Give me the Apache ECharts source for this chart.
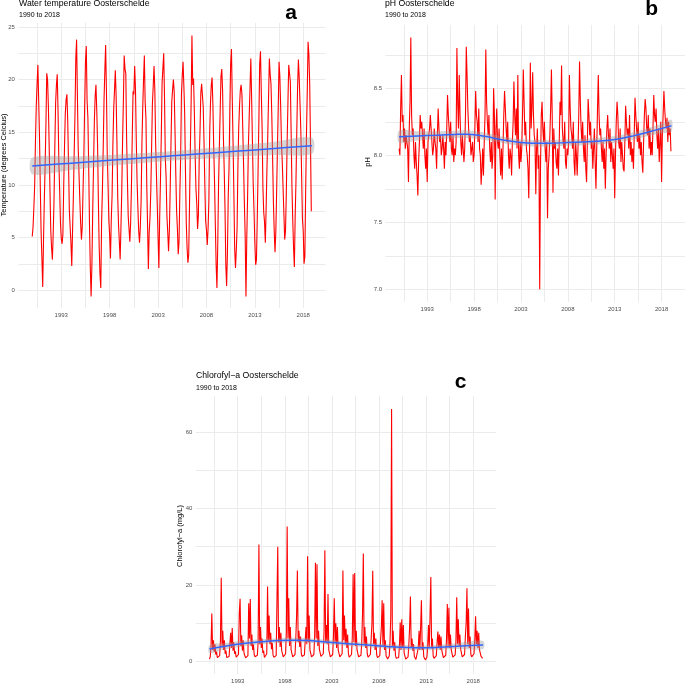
<!DOCTYPE html>
<html><head><meta charset="utf-8">
<script src="https://cdn.jsdelivr.net/npm/echarts@6/dist/echarts.min.js"></script>
<style>html,body{margin:0;padding:0;background:#fff}#c{width:685px;height:684px}</style>
</head><body><div id="c"></div>
<script>
// ---- DATA (monthly samples, first sample Jan 1990) ----
const startYear = 1990;
const temperature = [
 5.1,6.0,7.8,9.9,14.2,17.5,19.6,21.4,18.0,14.6,9.8,5.5,
 3.0,0.3,4.8,8.6,11.9,15.8,20.6,20.0,17.5,13.7,9.5,5.6,
 4.0,2.9,5.4,8.5,13.6,17.8,19.5,20.5,17.0,12.2,9.5,6.4,
 4.9,4.4,5.3,9.8,13.6,16.8,18.1,18.6,16.1,12.0,7.6,6.0,
 4.5,2.3,5.7,8.9,13.0,16.7,22.0,23.8,18.5,13.5,11.0,8.6,
 6.4,4.8,6.0,9.5,12.8,17.5,21.7,23.2,18.0,16.4,11.7,6.2,
 2.1,-0.6,2.5,7.6,11.8,16.0,18.4,19.5,17.1,13.8,8.5,4.1,
 1.5,0.2,6.5,9.5,13.5,18.0,20.8,23.3,19.0,13.0,10.0,6.6,
 5.2,3.0,6.7,9.0,13.8,17.2,19.0,20.9,18.5,14.1,8.8,6.2,
 4.6,2.9,6.0,9.4,14.2,17.9,22.3,21.0,20.6,14.5,10.5,7.0,
 5.8,4.6,6.4,9.8,14.5,18.9,18.6,21.3,19.1,14.2,10.3,7.8,
 5.6,4.5,6.0,8.5,13.9,17.3,20.0,22.3,17.9,16.3,10.0,6.1,
 2.0,5.5,6.9,9.4,13.5,17.7,19.4,21.3,19.0,14.0,11.0,8.1,
 5.0,2.1,6.8,10.5,14.6,19.7,21.1,22.5,18.3,12.5,10.7,7.0,
 5.5,3.7,5.6,9.4,13.8,17.9,19.0,20.0,18.9,15.2,11.0,7.5,
 5.8,3.4,4.6,9.1,12.6,18.6,20.4,21.7,19.4,16.8,11.2,6.4,
 4.0,2.6,3.4,8.1,13.2,17.8,24.2,19.5,20.1,16.9,12.8,9.6,
 8.2,5.8,7.1,12.3,15.0,18.7,19.6,19.6,17.4,14.0,10.0,6.6,
 5.7,4.3,5.8,8.5,14.9,17.8,19.5,20.2,17.6,13.6,10.4,6.3,
 2.4,0.2,4.3,10.0,13.6,17.0,20.3,21.0,19.0,14.6,11.5,7.8,
 2.4,0.4,3.5,8.9,11.7,17.2,21.5,22.9,18.2,14.0,9.2,3.9,
 2.1,3.8,6.0,11.7,15.4,17.5,19.0,19.5,18.6,15.4,12.0,8.3,
 5.2,-0.6,5.0,8.8,13.7,16.5,19.1,22.0,18.3,14.1,10.0,7.5,
 4.5,2.4,2.9,6.8,11.4,16.1,21.5,22.7,18.8,15.4,9.8,7.4,
 6.5,4.5,7.8,11.5,14.6,18.3,22.0,20.5,19.6,16.7,12.7,8.4,
 5.7,3.6,5.5,9.3,13.4,17.3,21.7,20.3,17.5,14.0,12.2,9.7,
 7.3,4.8,5.6,9.1,13.9,17.7,21.4,20.6,19.8,15.0,9.8,6.7,
 4.0,2.2,7.0,10.4,15.1,19.3,21.9,20.2,17.7,15.2,10.9,6.8,
 5.6,2.5,3.2,9.4,14.8,18.9,23.6,22.4,19.6,14.0,7.5
];
const phValues = [
 8.05,8.00,8.35,8.60,8.25,8.30,8.10,8.20,8.05,8.15,8.10,8.05,
 7.80,8.20,8.40,8.88,8.30,8.15,8.20,8.00,7.90,8.10,7.95,7.85,
 7.70,7.95,8.10,8.30,8.20,8.25,8.15,8.05,8.20,8.00,7.90,8.05,
 7.80,8.10,8.15,8.20,8.30,8.20,8.10,8.00,8.05,8.20,8.10,8.05,
 7.90,8.15,8.35,8.20,8.10,8.15,8.00,8.05,8.15,8.05,7.90,8.10,
 8.00,8.20,8.45,8.30,8.20,8.10,8.25,8.05,8.00,8.15,7.95,8.05,
 8.00,8.10,8.80,8.40,8.20,8.60,8.30,8.10,8.00,8.15,8.05,7.95,
 8.05,8.30,8.81,8.60,8.35,8.20,8.10,8.15,8.00,8.05,8.10,7.95,
 8.00,8.20,8.48,8.30,8.25,8.10,8.35,8.05,8.00,7.78,7.90,8.05,
 7.85,8.10,8.30,8.79,8.40,8.25,8.15,8.30,8.05,7.95,8.10,7.90,
 8.00,8.50,8.30,7.67,8.20,8.35,8.10,8.05,8.20,8.00,7.85,8.05,
 7.82,8.05,8.30,8.48,8.35,8.20,8.10,8.25,8.00,7.90,8.05,8.00,
 7.85,8.10,8.25,8.55,8.30,8.15,8.35,8.05,8.60,8.00,7.90,8.10,
 7.95,8.05,8.30,8.64,8.40,8.15,8.25,8.05,8.00,7.90,7.68,8.05,
 8.69,8.20,8.35,8.62,8.30,8.15,8.10,7.71,8.05,8.20,7.90,8.00,
 7.00,7.90,8.30,8.40,8.20,8.10,8.25,8.05,7.95,8.10,7.53,7.90,
 8.00,8.15,8.35,8.64,8.30,7.72,8.20,8.05,8.10,7.95,7.90,8.05,
 7.85,8.10,8.40,8.30,8.67,8.20,8.10,8.05,8.25,7.95,7.90,8.05,
 8.00,8.10,8.60,8.35,8.20,8.15,8.05,8.25,7.95,7.85,8.10,8.00,
 7.85,8.05,8.30,8.70,8.40,8.20,8.10,8.25,8.05,7.95,8.15,7.90,
 7.80,8.10,8.42,8.30,8.15,8.25,8.05,8.10,7.90,8.05,8.20,7.95,
 7.75,8.05,8.35,8.60,8.30,8.15,8.20,8.05,7.95,8.10,7.90,8.05,
 7.75,8.00,8.20,8.30,8.15,8.05,8.20,7.95,8.10,8.00,7.90,8.05,
 7.68,8.00,8.25,8.40,8.30,8.10,8.05,8.20,7.95,8.10,8.00,7.90,
 7.88,8.10,8.37,8.25,8.15,8.20,8.05,8.30,8.00,8.10,7.95,8.05,
 7.90,8.15,8.43,8.30,8.20,8.10,8.25,8.05,8.15,8.00,8.10,7.95,
 7.87,8.10,8.30,8.42,8.35,8.20,8.15,8.30,8.05,8.20,8.00,8.10,
 8.00,8.20,8.45,8.30,8.25,8.35,8.15,8.05,8.20,7.95,8.10,8.25,
 7.80,8.15,8.30,8.48,8.35,8.25,8.20,8.28,8.10,8.25,8.15,8.20,
 8.03
];
const chlorophyll = [
 0.6,1.2,4.0,12.5,3.0,5.5,2.5,4.5,1.8,2.6,1.0,0.8,
 0.9,1.5,5.5,21.9,4.0,8.0,3.0,5.5,2.0,2.8,1.0,0.7,
 0.8,1.3,4.5,7.5,3.5,8.7,2.8,5.0,2.0,2.6,1.1,0.9,
 1.0,1.8,12.5,16.4,4.0,6.8,2.8,5.5,2.2,2.5,0.9,0.7,
 0.8,1.5,15.2,6.0,16.3,4.0,7.0,3.0,4.5,1.8,1.2,0.8,
 0.9,1.6,5.0,30.6,4.5,9.0,3.5,6.0,2.2,2.8,1.0,0.7,
 0.8,2.0,19.6,5.5,12.0,4.5,7.5,3.2,4.8,1.7,1.1,0.9,
 0.7,1.5,16.0,30.0,5.0,9.0,3.8,7.5,2.8,3.0,1.2,0.8,
 0.9,2.0,8.0,35.3,6.0,16.5,4.0,9.0,3.0,3.5,1.2,0.8,
 1.0,1.8,6.0,12.0,23.8,5.0,8.0,3.8,6.5,2.0,1.3,0.9,
 0.8,1.7,5.5,9.0,4.5,27.5,5.0,12.0,3.0,3.5,1.2,0.8,
 0.9,1.8,6.5,25.8,6.0,25.4,4.0,8.0,3.2,3.0,1.3,0.9,
 1.0,2.0,8.0,29.1,5.0,9.5,4.5,17.6,3.0,3.5,1.2,0.8,
 0.9,1.8,7.0,16.5,5.0,10.0,3.5,9.0,3.0,2.8,1.2,0.8,
 0.9,2.0,23.8,5.5,12.0,4.5,8.5,3.5,7.0,2.0,1.1,0.8,
 1.0,1.8,6.5,22.8,5.0,23.1,4.0,8.0,3.0,3.2,1.2,0.8,
 0.8,1.6,5.0,12.5,28.2,4.5,9.0,3.5,6.5,2.0,1.1,0.7,
 0.9,1.8,6.0,10.0,23.7,4.5,7.5,3.0,6.0,1.8,1.0,0.7,
 0.8,1.5,5.5,9.0,16.0,4.0,15.2,3.0,5.5,1.5,1.0,0.6,
 0.7,1.4,5.0,12.0,66.0,4.0,8.0,2.8,5.0,1.5,0.8,0.4,
 0.5,1.0,4.0,10.2,3.0,11.0,3.5,9.5,2.2,2.5,0.6,0.3,
 0.6,1.2,4.5,9.0,17.0,3.5,6.0,2.8,4.5,1.3,0.8,0.5,
 0.5,1.0,3.5,8.0,3.0,9.0,16.0,3.0,5.0,1.2,0.7,0.4,
 0.6,1.1,4.0,9.5,3.5,12.0,22.1,3.5,6.0,1.4,0.8,0.6,
 0.7,1.5,5.0,7.8,3.5,7.0,3.0,6.5,2.8,2.5,1.0,0.7,
 0.8,1.6,6.0,15.0,4.0,14.0,3.5,7.0,3.0,2.6,1.1,0.8,
 0.9,1.7,5.5,16.8,4.5,11.0,4.0,7.0,3.2,2.8,1.2,0.8,
 1.0,1.8,6.5,10.0,19.1,4.5,13.8,3.5,6.5,1.8,1.2,0.9,
 1.0,2.0,5.5,11.8,4.5,8.0,3.5,7.5,3.0,3.5,1.3,0.9,
 0.8
];
// smoothers
const tempFitYears = [1990,1994,1998,2002,2004.5,2007,2011,2015,2018.9];
const tempFit = [11.79,12.06,12.33,12.59,12.76,12.93,13.19,13.46,13.72];
const tempFitLo = [11.01,11.41,11.81,12.13,12.31,12.47,12.67,12.83,12.96];
const tempFitHi = [12.57,12.71,12.85,13.05,13.21,13.39,13.71,14.09,14.48];
const phFitYears = [1990,1992,1994,1996,1997.2,1998.5,2000,2001.5,2003,2004.3,2006,2008,2009.6,2011,2013.2,2015,2016.7,2018,2019.05];
const phFit = [8.139,8.145,8.150,8.156,8.158,8.150,8.130,8.110,8.095,8.090,8.090,8.095,8.100,8.105,8.120,8.145,8.176,8.200,8.220];
const phFitLo = [8.094,8.110,8.120,8.128,8.130,8.122,8.104,8.085,8.071,8.066,8.066,8.071,8.076,8.080,8.094,8.118,8.146,8.165,8.175];
const phFitHi = [8.184,8.180,8.180,8.184,8.186,8.178,8.156,8.135,8.119,8.114,8.114,8.119,8.124,8.130,8.146,8.172,8.206,8.235,8.265];
const chlFitYears = [1990,1991.5,1993.8,1995.5,1997.3,1999,2000.5,2002,2004,2006,2007.5,2009,2011,2013,2014.5,2016.3,2019.05];
const chlFit = [3.25,3.9,4.75,5.15,5.45,5.55,5.45,5.15,4.75,4.4,4.15,3.85,3.6,3.55,3.7,3.97,4.3];
const chlFitLo = [2.20,3.05,4.05,4.50,4.83,4.95,4.85,4.55,4.15,3.80,3.55,3.25,3.00,2.93,3.05,3.22,3.25];
const chlFitHi = [4.30,4.75,5.45,5.80,6.07,6.15,6.05,5.75,5.35,5.00,4.75,4.45,4.20,4.17,4.35,4.72,5.35];
// axis ticks
const xLabelYears = [1993,1998,2003,2008,2013,2018];
const xGridYears = [1990.5,1993,1995.5,1998,2000.5,2003,2005.5,2008,2010.5,2013,2015.5,2018];
const tempTicks = [0,5,10,15,20,25];
const tempGrid = [0,2.5,5,7.5,10,12.5,15,17.5,20,22.5,25];
const phTicks = [7.0,7.5,8.0,8.5];
const phGrid = [7.0,7.25,7.5,7.75,8.0,8.25,8.5,8.75];
const chlTicks = [0,20,40,60];
const chlGrid = [0,10,20,30,40,50,60];

// ---- CHART ----
const FONT = 'Liberation Sans, Arial, sans-serif';
const GRIDC = '#EBEBEB';
const toSeries = arr => arr.map((v,i) => [startYear + i/12, v]);
const zip = (xs, ys) => xs.map((x,i) => [x, ys[i]]);

function xAxis(idx, min, max) {
  return {gridIndex: idx, type:'value', min, max,
    axisLine:{show:false},
    axisTick:{show:false, customValues: xGridYears},
    splitLine:{show:true, lineStyle:{color:GRIDC, width:1}},
    axisLabel:{customValues: xLabelYears, formatter: v => String(Math.round(v)),
      fontSize:6, color:'#4D4D4D', fontFamily:FONT, margin:4}};
}
function yAxis(idx, min, max, grid, ticks, dec) {
  return {gridIndex: idx, type:'value', min, max,
    axisLine:{show:false},
    axisTick:{show:false, customValues: grid},
    splitLine:{show:true, lineStyle:{color:GRIDC, width:1}},
    axisLabel:{customValues: ticks, formatter: v => v.toFixed(dec),
      fontSize:6, color:'#4D4D4D', fontFamily:FONT, margin:3.5}};
}
function ribbon(idx, xs, lo, hi) {
  return {type:'custom', xAxisIndex:idx, yAxisIndex:idx, silent:true, z:3,
    data: xs.map((x,i)=>[x, lo[i], hi[i]]),
    encode:{x:0, y:[1,2]},
    renderItem: (params, api) => {
      if (params.dataIndex !== 0) return null;
      const up = xs.map((x,i)=>api.coord([x, hi[i]]));
      const dn = xs.map((x,i)=>api.coord([x, lo[i]])).reverse();
      return {type:'polygon', shape:{points: up.concat(dn), smooth:0.3},
        style:{fill:'rgba(153,153,153,0.4)'}};
    }};
}
function raw(idx, arr) {
  return {type:'line', xAxisIndex:idx, yAxisIndex:idx, data: toSeries(arr),
    showSymbol:false, symbol:'none', sampling:null, z:2,
    lineStyle:{color:'#FF0000', width:1.1}};
}
function fit(idx, xs, ys) {
  return {type:'line', xAxisIndex:idx, yAxisIndex:idx, data: zip(xs, ys),
    showSymbol:false, symbol:'none', smooth:0.4, z:4,
    lineStyle:{color:'#3366FF', width:1.5}};
}
function txt(x, y, text, size) {
  return {type:'text', x, y, silent:true,
    style:{text, fontSize:size, fontFamily:FONT, fill:'#000', align:'left', verticalAlign:'middle'}};
}
function bold(x, y, t) {
  return {type:'text', x, y, silent:true,
    style:{text:t, fontSize:21, fontWeight:'bold', fontFamily:FONT, fill:'#000', align:'center', verticalAlign:'middle'}};
}
function vtxt(x, y, text) {
  return {type:'text', x, y, rotation: Math.PI/2, silent:true,
    style:{text, fontSize:7.5, fontFamily:FONT, fill:'#000', align:'center', verticalAlign:'middle'}};
}

const chart = echarts.init(document.getElementById('c'), null, {renderer:'canvas'});
chart.setOption({
  animation:false,
  backgroundColor:'#fff',
  grid:[
    {left:18.3, top:22.8, width:307.2, height:285.2},
    {left:385.5, top:24.8, width:299.7, height:277.1},
    {left:195.8, top:395.7, width:300.5, height:280.3}
  ],
  xAxis:[ xAxis(0,1988.56,2020.3), xAxis(1,1988.55,2020.5), xAxis(2,1988.55,2020.45) ],
  yAxis:[ yAxis(0,-1.7,25.4,tempGrid,tempTicks,0),
          yAxis(1,6.906,8.974,phGrid,phTicks,1),
          yAxis(2,-3.3,69.5,chlGrid,chlTicks,0) ],
  series:[
    raw(0, temperature), ribbon(0, tempFitYears, tempFitLo, tempFitHi), fit(0, tempFitYears, tempFit),
    raw(1, phValues), ribbon(1, phFitYears, phFitLo, phFitHi), fit(1, phFitYears, phFit),
    raw(2, chlorophyll), ribbon(2, chlFitYears, chlFitLo, chlFitHi), fit(2, chlFitYears, chlFit)
  ],
  graphic:[
    txt(19, 4.1, 'Water temperature Oosterschelde', 8.7),
    txt(19, 14.9, '1990 to 2018', 7),
    bold(291, 13.4, 'a'),
    vtxt(4, 165, 'Temperature (degrees Celcius)'),
    txt(385, 4.1, 'pH Oosterschelde', 8.7),
    txt(385, 14.9, '1990 to 2018', 7),
    bold(651.7, 9.4, 'b'),
    vtxt(368, 162, 'pH'),
    txt(196, 375.8, 'Chlorofyl\u2212a Oosterschelde', 8.7),
    txt(196, 388.3, '1990 to 2018', 7),
    bold(460.7, 382.7, 'c'),
    vtxt(180, 536, 'Chlorofyl\u2212a (mg/L)')
  ]
});
</script></body></html>
